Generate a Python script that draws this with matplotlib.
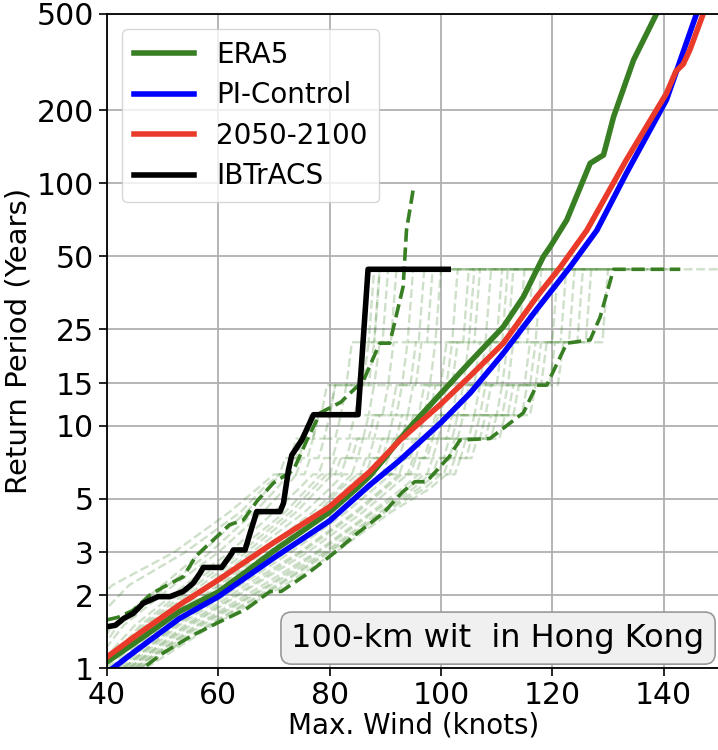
import matplotlib
matplotlib.use("Agg")
import matplotlib.pyplot as plt
from matplotlib.ticker import FixedLocator, NullLocator, FixedFormatter

# ---------------- data ----------------
era5_x = [40, 45, 50, 53, 60, 65, 70, 75, 80, 85, 87.2, 90, 92.6, 95, 100, 105.2,
          111.2, 114.8, 118.4, 119.6, 122.6, 126.8, 129.2, 131, 134.6, 138.7, 140]
era5_y = [1.06, 1.27, 1.53, 1.71, 2.06, 2.5, 3.05, 3.66, 4.4, 5.55, 6.2, 7.4, 8.8,
          10.2, 13.6, 18.3, 25.6, 34, 49.9, 54.7, 70.6, 121, 131, 188, 323, 500, 560]

pi_x = [40, 41.1, 45, 53, 60, 70, 80, 87.2, 92.6, 100, 105.2, 111.2, 117.2, 123.2,
        128, 133.3, 140.5, 145.9, 147]
pi_y = [0.96, 1.0, 1.17, 1.6, 1.97, 2.85, 4.05, 5.69, 7.2, 10.3, 13.6, 19.9, 30.2,
        45.2, 64, 110, 221, 500, 560]

fut_x = [40, 45, 53, 60, 70, 80, 87.2, 92.6, 100, 105.2, 111.2, 117.2, 121.4, 126.2,
         133.3, 140.5, 142.2, 143.5, 144.7, 147.1, 148]
fut_y = [1.11, 1.35, 1.82, 2.31, 3.3, 4.63, 6.46, 8.7, 12.3, 16, 21.9, 34, 45, 64,
         125, 235, 290, 310, 355, 500, 560]

ib_x = [40, 41.5, 43, 44.7, 46.5, 49.2, 51.3, 53.7, 55.5, 56.7, 57.3, 60.6, 62.4,
        62.7, 64.8, 65.7, 66.9, 71.1, 71.7, 72.6, 73.2, 75.0, 77.1, 85.1, 86.9, 101.3]
ib_y = [1.48, 1.5, 1.6, 1.68, 1.85, 1.97, 1.97, 2.07, 2.24, 2.46, 2.6, 2.6, 2.97,
        3.07, 3.07, 3.6, 4.42, 4.42, 4.78, 6.56, 7.56, 8.73, 11.1, 11.1, 44.2, 44.2]

ub_x = [40, 42, 44.7, 47.7, 50, 53.7, 56, 59.7, 62, 64.5, 67, 69.9, 73.5, 75.9,
        78.3, 82, 86.1, 89, 90.8, 93.2, 93.8, 95]
ub_y = [1.58, 1.62, 1.73, 2.0, 2.15, 2.38, 2.9, 3.48, 3.9, 4.08, 4.9, 5.8, 6.56,
        8.7, 11.3, 12.5, 15.4, 21.9, 21.9, 37.5, 64, 94]

lb_x = [44, 46.5, 50, 55, 59.7, 65, 69.3, 71.3, 76, 80.7, 85, 89.6, 93, 95.3, 97.4,
        100.4, 101.5, 103.4, 108.8, 114.8, 117.2, 119, 122.6, 126.8, 128.6, 131, 143]
lb_y = [0.95, 1.0, 1.15, 1.35, 1.53, 1.75, 2.07, 2.07, 2.45, 2.97, 3.6, 4.35, 5.3,
        5.87, 5.87, 7.0, 7.45, 8.73, 8.85, 11.3, 14.7, 14.7, 21.9, 22.6, 28.1, 44.2, 44.2]

# ensemble members: wind speed at which each return-period level is reached / left
member_levels = [1.0, 1.5, 2.2, 3.0, 4.4, 5.5, 6.3, 6.3, 7.35, 7.35, 8.84, 8.84,
                 11.05, 11.05, 14.7, 14.7, 22.1, 22.1, 44.2, 44.2]
members = [
    [36, 41, 50, 57, 65, 69, 71, 72, 73, 74, 75, 77, 78, 80, 81, 86, 87, 88, 89, 98],
    [36.5, 42, 51, 58.5, 66.5, 70.5, 72.5, 74, 75, 76, 77, 79, 80, 82, 83, 87, 88, 89.5, 90.5, 100],
    [37, 43, 52, 60, 68, 72, 74, 75.5, 76.5, 78, 79, 81, 82, 84.5, 85.5, 88, 89, 91, 92, 104],
    [38, 45, 54, 62, 70, 74.5, 77, 78, 79, 80.5, 81.5, 83.5, 84.5, 87, 88, 90.5, 91.5, 94, 95, 101],
    [39, 46, 55, 63, 72, 76, 78.5, 80, 81, 83, 84, 86, 87, 89.5, 90.5, 93, 94, 96, 97, 110],
    [39.5, 46.5, 56, 64, 73, 77, 79.5, 81, 82, 84, 85, 87, 88, 91, 92, 94.5, 95.5, 97.5, 98.5, 106],
    [40, 47, 57, 65, 74, 78, 80.5, 82, 83, 85, 86, 88, 89, 92, 93, 95.5, 96.5, 99, 100, 108],
    [40.5, 48, 58, 66, 75.5, 80, 82.5, 84, 85, 87, 88, 90.5, 91.5, 94, 95, 98, 99, 102, 103, 115],
    [41, 49, 59, 67.5, 77, 81.5, 84, 85.5, 86.5, 88.5, 89.5, 92, 93, 96, 97, 100, 101, 104, 105, 112],
    [41.5, 49.5, 60, 68, 78, 82, 85, 86.5, 87.5, 89.5, 90.5, 93, 94, 97, 98, 101, 102, 105, 106, 116],
    [42, 50, 60.5, 69, 78.5, 83, 86, 87.5, 88.5, 90.5, 91.5, 94, 95, 98, 99, 102, 103, 106, 107, 120],
    [42.5, 51, 61.5, 70, 80, 85, 88, 89.5, 90.5, 92.5, 93.5, 96, 97, 100, 101, 104, 105, 108, 109, 118],
    [43, 52, 62.5, 71.5, 81.5, 86.5, 89.5, 91, 92, 94, 95, 98, 99, 102, 103, 106, 107, 110, 111, 125],
    [43, 52.5, 63, 72, 82, 87, 90, 91.5, 92.5, 94.5, 95.5, 98.5, 99.5, 103, 104, 107, 108, 111, 112, 119],
    [43.5, 53, 64, 73, 83, 88, 91, 92.5, 93.5, 95.5, 96.5, 99.5, 100.5, 104, 105, 108, 109, 112, 113, 122],
    [44, 54, 65, 74.5, 84.5, 89.5, 92.5, 94, 95, 97, 98, 101, 102, 106, 107, 110, 111, 114, 115, 130],
    [44, 54.5, 66, 75, 85, 90, 93, 94.5, 95.5, 97.5, 98.5, 102, 103, 107, 108, 111, 112, 115.5, 116.5, 126],
    [44.5, 55, 66.5, 76, 86, 91, 94, 95.5, 96.5, 98.5, 99.5, 103, 104, 108, 109, 112, 113, 117, 118, 128],
    [45, 56, 68, 77.5, 87.5, 93, 96, 97.5, 98.5, 100.5, 101.5, 105, 106, 110, 111, 115, 116, 120, 121, 135],
    [45, 56.5, 69, 78, 88, 94, 97, 98.5, 99.5, 101.5, 102.5, 106, 107, 111, 112, 116, 117, 121.5, 122.5, 131],
    [45.5, 57, 69.5, 79, 89, 95, 98, 99.5, 100.5, 102.5, 103.5, 107, 108, 112, 113, 117, 118, 123, 124, 132],
    [46, 58, 70.5, 79.5, 89.5, 96, 99, 100.5, 101.5, 103.5, 104.5, 108, 109, 113, 114, 118, 119, 124.5, 125.5, 138],
    [46, 58.5, 71, 80, 90, 97, 100, 101.5, 102.5, 104.5, 105.5, 109, 110, 114.5, 115.5, 119.5, 120.5, 126, 127, 150],
    [47, 59, 72, 81, 91, 98, 101, 102.5, 103.5, 105.5, 106.5, 110.5, 111.5, 116, 117, 121, 122, 129, 130, 142],
    [33, 37, 44, 54, 64, 68, 71, 72, 73, 74.5, 75.5, 77, 78, 80, 81, 85, 86, 88, 89, 95],
    [30, 33, 41, 52, 62, 67, 70, 71, 72, 73, 74, 75.5, 76.5, 78.5, 79.5, 83, 84, 87, 88, 96],
]

yticks = [1, 2, 3, 5, 10, 15, 25, 50, 100, 200, 500]
xticks = [40, 60, 80, 100, 120, 140]

GREEN = '#387e22'
BLUE = '#0000ff'
RED = '#ea3a2a'

# ---------------- figure ----------------
fig = plt.figure(figsize=(7.18, 7.5), dpi=100)
ax = fig.add_axes([107/718, 82/750, 612.3/718, 654/750])

for mx in members:
    ax.plot(mx, member_levels, ls='--', color=GREEN, lw=1.7, alpha=0.24)

ax.plot(ub_x, ub_y, ls='--', color=GREEN, lw=2.6)
ax.plot(lb_x, lb_y, ls='--', color=GREEN, lw=2.6)

ax.plot(era5_x, era5_y, color=GREEN, lw=4.0, label='ERA5')
ax.plot(pi_x, pi_y, color=BLUE, lw=4.0, label='PI-Control')
ax.plot(fut_x, fut_y, color=RED, lw=4.0, label='2050-2100')
ax.plot(ib_x, ib_y, color='black', lw=4.0, label='IBTrACS')

ax.set_yscale('log')
ax.set_xlim(40, 150)
ax.set_ylim(1, 500)
ax.yaxis.set_major_locator(FixedLocator(yticks))
ax.yaxis.set_major_formatter(FixedFormatter([str(v) for v in yticks]))
ax.yaxis.set_minor_locator(NullLocator())
ax.set_xticks(xticks)
ax.tick_params(labelsize=21.5, length=6, width=1.2)
ax.grid(True, color='#b0b0b0', lw=1.3)
for s in ax.spines.values():
    s.set_linewidth(1.3)

ax.set_xlabel('Max. Wind (knots)', fontsize=20, labelpad=1)
ax.set_ylabel('Return Period (Years)', fontsize=21, labelpad=3)

leg = ax.legend(loc='upper left', fontsize=20, handlelength=2.15, borderaxespad=0.55,
                labelspacing=0.45, borderpad=0.42)

ax.text(0.976, 0.022, '100-km wit  in Hong Kong', transform=ax.transAxes,
        ha='right', va='bottom', fontsize=23,
        bbox=dict(boxstyle='round,pad=0.33', fc='#f0f0f0', ec='#999999', lw=1.2))

fig.savefig('out.png', dpi=100)
